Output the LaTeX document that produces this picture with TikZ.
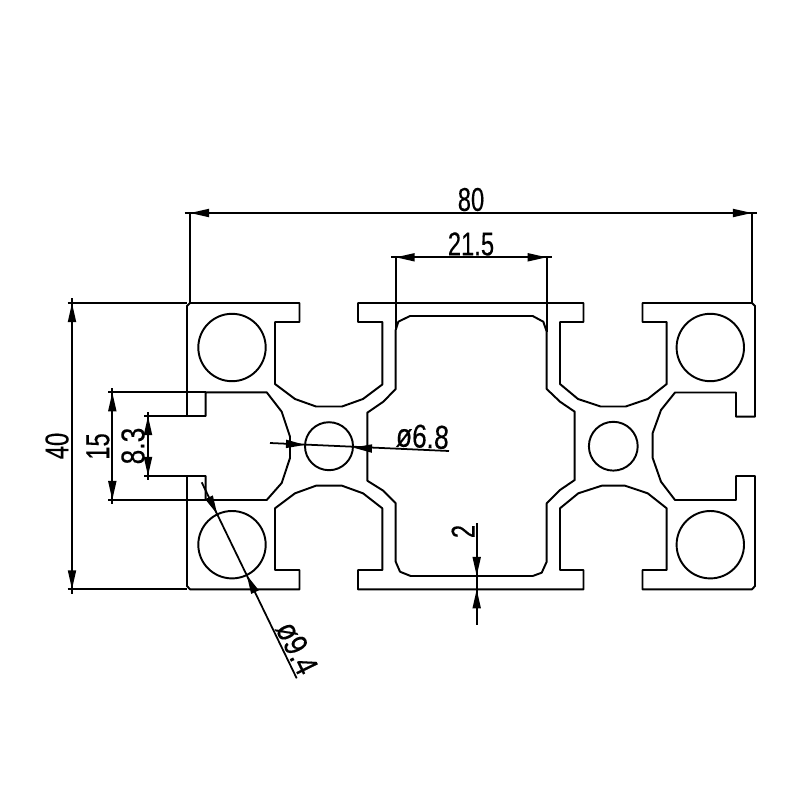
\documentclass[tikz,border=0pt]{standalone}
\usepackage{fontspec}
\setmainfont{Liberation Sans}[FakeBold=0.25]
\usetikzlibrary{arrows.meta}
\newcommand{\dimtxt}[1]{\scalebox{.72}[1]{#1}}

\begin{document}
\begin{tikzpicture}[
  x=0.01cm, y=-0.01cm,
  profile/.style={draw, line width=0.55pt, line join=round},
  dimline/.style={draw, line width=0.5pt},
  dimtip/.style={draw, line width=0.5pt, -{Triangle[length=0.19cm, width=0.08cm, sep=0pt]}},
  dimlabel/.style={font=\fontsize{9.4}{9.4}\selectfont, inner sep=0pt}
]
\useasboundingbox (0,0) rectangle (800,800);

\draw[profile] (190,303) -- (299.5,303) -- (299.5,322) -- (275,322) -- (275,384)
  -- (295,399) -- (316,406.5) -- (342,406.5) -- (363,399) -- (382.3,384.5) -- (382.3,322)
  -- (358,322) -- (358,303) -- (583.5,303) -- (583.5,322) -- (560,322) -- (560,384)
  -- (578,399) -- (600.7,406.5) -- (625.7,406.5) -- (647.7,399) -- (666.7,384) -- (666.7,322)
  -- (642.5,322) -- (642.5,303) -- (752,303) -- (755,306) -- (755,416.7) -- (736,416.7)
  -- (736,392.5) -- (675,392.5) -- (661,410) -- (652.7,433) -- (652.7,458) -- (661,481.7)
  -- (675,500) -- (736,500) -- (736,476) -- (755,476) -- (755,586) -- (752,589.3)
  -- (642.5,589.3) -- (642.5,570) -- (666.7,570) -- (666.7,508.3) -- (647.7,493.3)
  -- (625,485.7) -- (601.7,485.7) -- (578.3,493.3) -- (560,508.3) -- (560,570) -- (583.5,570)
  -- (583.5,589.3) -- (358,589.3) -- (358,570) -- (382.3,570) -- (382.3,508.3) -- (363,493.3)
  -- (342,485.7) -- (316,485.7) -- (295,493.3) -- (275,508.3) -- (275,570) -- (299.5,570)
  -- (299.5,589.3) -- (190,589.3) -- (187,586) -- (187,476) -- (205.7,476) -- (205.7,500)
  -- (266.7,500) -- (281.7,483) -- (290,458) -- (290,436.7) -- (281.7,411.7) -- (266.7,392.3)
  -- (205.7,392.3) -- (205.7,416) -- (187,416) -- (187,306) -- cycle;

\draw[profile] (395.7,330) -- (398.3,321.7) -- (410,316) -- (532.7,316) -- (543.3,321.7)
  -- (546.7,331.7) -- (546.7,389) -- (560,401.7) -- (574.7,411.7) -- (574.7,480) -- (560,490)
  -- (546.7,503.3) -- (546.7,561.7) -- (541.7,572.7) -- (532.7,576) -- (410.7,576)
  -- (400,571.7) -- (395.7,561.7) -- (395.7,503.3) -- (383.3,490.7) -- (367.3,480.7)
  -- (367.3,412.7) -- (383.3,401.7) -- (395.7,389) -- cycle;

\draw[profile] (232,347.5) circle (33.7);
\draw[profile] (710.3,347.5) circle (33.7);
\draw[profile] (232,544.7) circle (33.7);
\draw[profile] (710.3,544.7) circle (33.7);
\draw[profile] (329,446.2) circle (24);
\draw[profile] (613.3,446.2) circle (24.4);

\draw[dimline] (190,303) -- (190,213);
\draw[dimline] (752,303) -- (752,213);
\draw[dimline] (184.5,213) -- (757,213);
\draw[dimtip] (209,213) -- (190,213);
\draw[dimtip] (733,213) -- (752,213);
\node[dimlabel] (len80) at (471,199.5) {\dimtxt{80}};

\draw[dimline] (395.7,330) -- (395.7,257.3);
\draw[dimline] (546.7,331.7) -- (546.7,257.3);
\draw[dimline] (391,257.3) -- (551.5,257.3);
\draw[dimtip] (414.7,257.3) -- (395.7,257.3);
\draw[dimtip] (527.7,257.3) -- (546.7,257.3);
\node[dimlabel] (len215) at (471,244) {\dimtxt{21.5}};

\draw[dimline] (67.5,303) -- (187,303);
\draw[dimline] (67.5,589.3) -- (187,589.3);
\draw[dimline] (72,298) -- (72,594);
\draw[dimtip] (72,322) -- (72,303);
\draw[dimtip] (72,570.3) -- (72,589.3);
\node[dimlabel, rotate=90] (len40) at (57,446) {\dimtxt{40}};

\draw[dimline] (108,392.3) -- (205.7,392.3);
\draw[dimline] (108,500) -- (205.7,500);
\draw[dimline] (112.3,388) -- (112.3,504);
\draw[dimtip] (112.3,411.3) -- (112.3,392.3);
\draw[dimtip] (112.3,481) -- (112.3,500);
\node[dimlabel, rotate=90] (len15) at (98,446.5) {\dimtxt{15}};

\draw[dimline] (144,416) -- (187,416);
\draw[dimline] (144,476) -- (187,476);
\draw[dimline] (148,412) -- (148,480);
\draw[dimtip] (148,435) -- (148,416);
\draw[dimtip] (148,457) -- (148,476);
\node[dimlabel, rotate=90] (len83) at (133,446) {\scalebox{.8}[1]{8.3}};

\draw[dimline] (270,443) -- (449,451);
\draw[dimtip] (286,443.9) -- (305,444.9);
\draw[dimtip] (372,448.5) -- (353,447.6);
\node[dimlabel, rotate=-3] (dia68) at (422.5,436.5) {\scalebox{.8}[1]{ø6.8}};

\draw[dimline] (476.7,523) -- (476.7,625);
\draw[dimtip] (476.7,557) -- (476.7,576);
\draw[dimtip] (476.7,608.3) -- (476.7,589.3);
\node[dimlabel, rotate=90] (wall2) at (463,531.5) {\dimtxt{2}};

\draw[dimline] (201.7,482.3) -- (296.7,678.3);
\draw[dimtip] (209,497.3) -- (217.3,514.4);
\draw[dimtip] (255,592.1) -- (246.7,575);
\node[dimlabel, rotate=-64] (dia94) at (297,648) {\scalebox{.82}[1]{ø9.4}};

\end{tikzpicture}
\end{document}
